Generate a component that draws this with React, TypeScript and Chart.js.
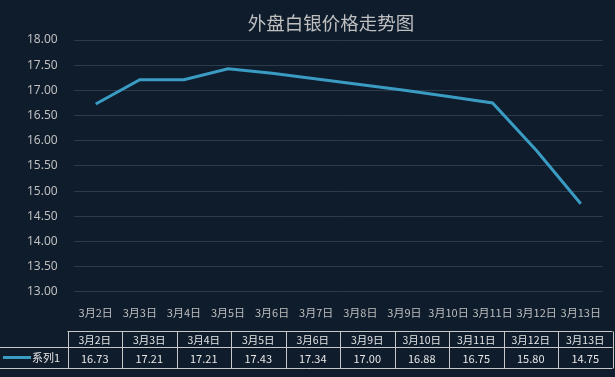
import React, { useEffect, useRef } from "react";
import { Chart, registerables } from "chart.js";

Chart.register(...registerables);

const TITLE = "外盘白银价格走势图";
const axisDates = ["3月2日", "3月3日", "3月4日", "3月5日", "3月6日", "3月7日", "3月8日", "3月9日", "3月10日", "3月11日", "3月12日", "3月13日"];
const tableDates = ["3月2日", "3月3日", "3月4日", "3月5日", "3月6日", "3月9日", "3月10日", "3月11日", "3月12日", "3月13日"];
const seriesName = "系列1";
const seriesValues = [16.73, 17.21, 17.21, 17.43, 17.34, 17.0, 16.88, 16.75, 15.8, 14.75];
const yMin = 13;
const yMax = 18;
const yStep = 0.5;

const BG = "#0e1c2c";
const LINE = "#3a9cc2";
const GRID = "#2c3b4b";
const TEXT = "#bfbfbf";
const CJK = '"Noto Sans CJK SC", "Noto Sans", sans-serif';

const bgAndTable = {
  id: "bgAndTable",
  beforeDraw(chart: any) {
    const ctx = chart.ctx;
    ctx.save();
    ctx.fillStyle = BG;
    ctx.fillRect(0, 0, chart.width, chart.height);
    ctx.restore();
  },
  afterDraw(chart: any) {
    const ctx = chart.ctx;
    ctx.save();
    // title
    ctx.fillStyle = TEXT;
    ctx.font = `18.5px ${CJK}`;
    ctx.textAlign = "center";
    ctx.textBaseline = "middle";
    ctx.fillText(TITLE, 331, 23);

    // data table
    const left = 67.5;
    const right = 612.5;
    const top = 331.5;
    const mid = 347.5;
    const bottom = 368.5;
    const n = tableDates.length;
    const cw = (right - left) / n;
    ctx.strokeStyle = "#c8c8c8";
    ctx.lineWidth = 1;
    ctx.beginPath();
    ctx.moveTo(left, top);
    ctx.lineTo(right, top);
    ctx.moveTo(0, mid);
    ctx.lineTo(right, mid);
    ctx.moveTo(0, bottom);
    ctx.lineTo(right, bottom);
    for (let i = 0; i <= n; i++) {
      const x = Math.round(left + i * cw) + 0.5;
      ctx.moveTo(x, top);
      ctx.lineTo(x, bottom);
    }
    ctx.stroke();

    ctx.fillStyle = "#e6e6e6";
    for (let i = 0; i < n; i++) {
      const cx = left + (i + 0.5) * cw;
      ctx.font = `10.5px ${CJK}`;
      ctx.fillText(tableDates[i], cx, (top + mid) / 2 + 0.5);
      ctx.font = `11px ${CJK}`;
      ctx.fillText(seriesValues[i].toFixed(2), cx, (mid + bottom) / 2 + 0.5);
    }
    // legend key
    ctx.strokeStyle = LINE;
    ctx.lineWidth = 3;
    ctx.beginPath();
    ctx.moveTo(3, 357.5);
    ctx.lineTo(31, 357.5);
    ctx.stroke();
    ctx.fillStyle = "#e6e6e6";
    ctx.font = `11px ${CJK}`;
    ctx.textAlign = "left";
    ctx.fillText(seriesName, 32, 358);
    ctx.restore();
  },
};

export default function App() {
  const ref = useRef<HTMLCanvasElement>(null);
  useEffect(() => {
    document.body.style.margin = "0";
    document.body.style.background = BG;
    const points = tableDates.map((d, i) => ({ x: d, y: seriesValues[i] }));
    const chart = new Chart(ref.current!, {
      type: "line",
      data: {
        labels: axisDates,
        datasets: [
          {
            label: seriesName,
            data: points as any,
            borderColor: LINE,
            backgroundColor: LINE,
            borderWidth: 3,
            pointRadius: 0,
            tension: 0,
          },
        ],
      },
      options: {
        responsive: false,
        animation: false,
        layout: { padding: { left: 11, right: 2, top: 40, bottom: 44 } },
        plugins: {
          legend: { display: false },
          title: { display: false },
          tooltip: { enabled: false },
        },
        scales: {
          x: {
            type: "category",
            offset: true,
            grid: { display: false, drawTicks: false, offset: true },
            border: { display: false },
            ticks: {
              color: TEXT,
              font: { size: 11, family: CJK },
              autoSkip: false,
              maxRotation: 0,
              minRotation: 0,
              padding: 14,
            },
          },
          y: {
            min: yMin,
            max: yMax,
            grid: { color: GRID, drawTicks: false },
            border: { display: false },
            ticks: {
              stepSize: yStep,
              color: TEXT,
              font: { size: 12, family: '"Noto Sans", sans-serif' },
              padding: 16,
              callback: (v: any) => Number(v).toFixed(2),
            },
          },
        },
      },
      plugins: [bgAndTable],
    });
    return () => chart.destroy();
  }, []);
  return <canvas ref={ref} width={615} height={377} style={{ display: "block" }} />;
}
